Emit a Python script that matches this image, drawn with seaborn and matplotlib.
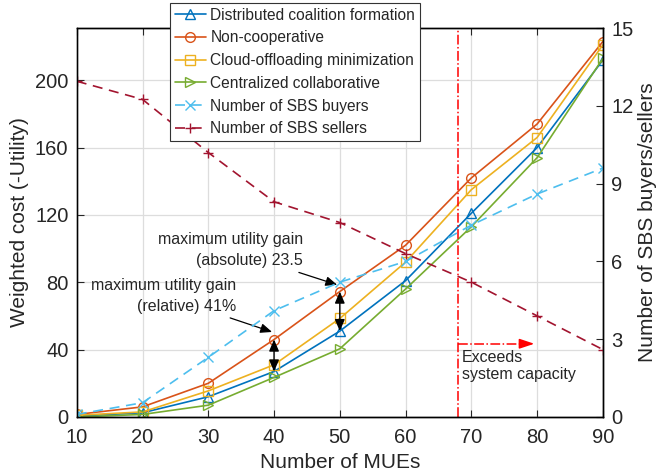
import numpy as np
import pandas as pd
import matplotlib
matplotlib.use("Agg")
import matplotlib.pyplot as plt
import seaborn as sns

sns.set_style("ticks")
plt.rcParams['font.family'] = ['Liberation Sans', 'DejaVu Sans']

mues = [10, 20, 30, 40, 50, 60, 70, 80, 90]
distributed = [0.5, 2.5, 12, 27, 51, 81, 121, 160, 212]
non_coop = [1.5, 6, 20, 46, 74.5, 102, 142, 174, 223]
cloud = [1, 3, 15.5, 31, 58.5, 92, 135, 166, 221]
centralized = [0, 1.5, 7, 23.5, 40.5, 76, 113, 154, 213]
buyers = [0.1, 0.55, 2.3, 4.1, 5.2, 6.0, 7.4, 8.6, 9.6]
sellers = [12.95, 12.25, 10.2, 8.3, 7.5, 6.3, 5.2, 3.9, 2.6]
capacity = 68

c_blue = "#0072BD"
c_orange = "#D95319"
c_yellow = "#EDB120"
c_green = "#77AC30"
c_cyan = "#4DBEEE"
c_red = "#A2142F"

fig = plt.figure(figsize=(6.56, 4.76), dpi=100)
ax = fig.add_axes([0.117, 0.124, 0.802, 0.817])
ax2 = ax.twinx()

mk = dict(markerfacecolor="none", markersize=7, markeredgewidth=1.0, linewidth=1.2)
sns.lineplot(x=mues, y=distributed, ax=ax, color=c_blue, marker="^", markeredgecolor=c_blue,
             label="Distributed coalition formation", **mk)
sns.lineplot(x=mues, y=non_coop, ax=ax, color=c_orange, marker="o", markeredgecolor=c_orange,
             label="Non-cooperative", **mk)
sns.lineplot(x=mues, y=cloud, ax=ax, color=c_yellow, marker="s", markeredgecolor=c_yellow,
             label="Cloud-offloading minimization", **mk)
sns.lineplot(x=mues, y=centralized, ax=ax, color=c_green, marker=">", markeredgecolor=c_green,
             label="Centralized collaborative", **mk)
sns.lineplot(x=mues, y=buyers, ax=ax2, color=c_cyan, marker="x", markeredgecolor=c_cyan,
             linestyle=(0, (6, 4)), label="Number of SBS buyers", **mk)
sns.lineplot(x=mues, y=sellers, ax=ax2, color=c_red, marker="+", markeredgecolor=c_red,
             linestyle=(0, (6, 4)), label="Number of SBS sellers", **mk)

ax.set_xlim(10, 90)
ax.set_ylim(0, 231)
ax2.set_ylim(0, 15)
ax.set_xticks(mues)
ax.set_yticks([0, 40, 80, 120, 160, 200])
ax2.set_yticks([0, 3, 6, 9, 12, 15])
ax.grid(True, color="#dddddd", linewidth=0.9)
ax.set_axisbelow(True)

for a in (ax, ax2):
    a.tick_params(direction="in", labelsize=14.5, length=5, width=0.8, top=True, pad=6)
    for s in a.spines.values():
        s.set_linewidth(1.0)
        s.set_color("black")
ax.tick_params(axis="x", pad=8)
ax.spines["left"].set_color("#555555")

ax.set_xlabel("Number of MUEs", fontsize=15, labelpad=4)
ax.set_ylabel("Weighted cost (-Utility)", fontsize=15, labelpad=4)
ax2.set_ylabel("Number of SBS buyers/sellers", fontsize=15, labelpad=3)

# capacity marker
ax.axvline(capacity, color="red", linestyle="-.", linewidth=1.1)
ax.plot([capacity, 78], [43.5, 43.5], color="red", linestyle="-.", linewidth=1.1)
ax.annotate("", xy=(80, 43.5), xytext=(77, 43.5),
            arrowprops=dict(arrowstyle="-|>,head_length=0.9,head_width=0.3", color="red", lw=1.1))
ax.text(capacity + 0.6, 40, "Exceeds\nsystem capacity", fontsize=11.5, va="top", ha="left")

# gain arrows
arr = dict(arrowstyle="<|-|>,head_length=0.7,head_width=0.3", color="black", lw=1.0,
           shrinkA=0, shrinkB=0)
ax.annotate("", xy=(40, non_coop[3]), xytext=(40, distributed[3]), arrowprops=arr)
ax.annotate("", xy=(50, non_coop[4]), xytext=(50, distributed[4]), arrowprops=arr)

pt = dict(arrowstyle="-|>,head_length=0.6,head_width=0.25", color="black", lw=0.9, shrinkA=2, shrinkB=0)
ax.annotate("maximum utility gain\n(absolute) 23.5", xy=(49.6, 78.5), xytext=(44.4, 99),
            ha="right", va="center", multialignment="right", fontsize=11.5, arrowprops=pt,
            linespacing=1.5)
ax.annotate("maximum utility gain\n(relative) 41%", xy=(39.7, 50.5), xytext=(34.3, 72),
            ha="right", va="center", multialignment="right", fontsize=11.5, arrowprops=pt,
            linespacing=1.5)

h1, l1 = ax.get_legend_handles_labels()
h2, l2 = ax2.get_legend_handles_labels()
ax.get_legend().remove()
ax2.get_legend().remove()
leg = fig.legend(h1 + h2, l1 + l2, loc="upper left", bbox_to_anchor=(0.259, 0.994),
                 fontsize=11.2, frameon=True, fancybox=False, edgecolor="#333333",
                 framealpha=1, borderpad=0.3, labelspacing=0.5, handlelength=2.0,
                 handletextpad=0.3, borderaxespad=0)
leg.get_frame().set_linewidth(0.8)

fig.savefig("out.png", dpi=100)
